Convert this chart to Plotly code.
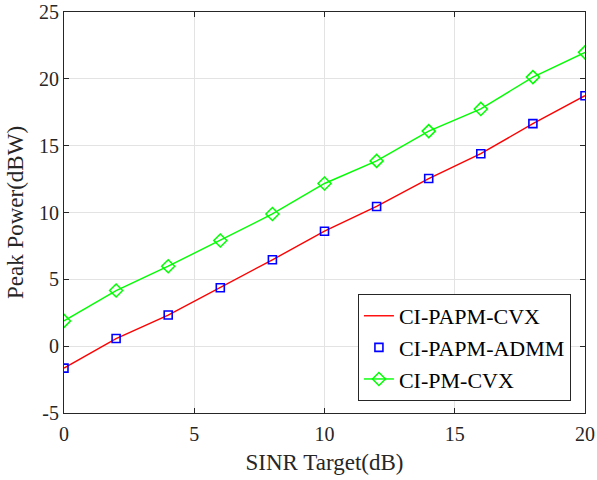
import plotly.graph_objects as go

# SINR target (dB)
sinr_db = [0, 2, 4, 6, 8, 10, 12, 14, 16, 18, 20]

# Peak power (dBW) per scheme
papm_cvx = [-1.64, 0.57, 2.33, 4.37, 6.46, 8.60, 10.45, 12.54, 14.40, 16.65, 18.74]
papm_admm = [-1.64, 0.57, 2.33, 4.37, 6.46, 8.60, 10.45, 12.54, 14.40, 16.65, 18.74]
pm_cvx = [1.89, 4.16, 5.98, 7.91, 9.89, 12.17, 13.86, 16.09, 17.75, 20.13, 21.98]

x_ticks = [0, 5, 10, 15, 20]
y_ticks = [-5, 0, 5, 10, 15, 20, 25]

FONT = "Liberation Serif, Times New Roman, serif"
AXIS_COLOR = "#262626"
GRID_COLOR = "#e3e3e3"

fig = go.Figure()
fig.add_trace(go.Scatter(
    x=sinr_db, y=papm_cvx, mode="lines", name="CI-PAPM-CVX",
    line=dict(color="#ff0000", width=1.4),
))
fig.add_trace(go.Scatter(
    x=sinr_db, y=papm_admm, mode="markers", name="CI-PAPM-ADMM",
    marker=dict(symbol="square-open", size=8, color="#0000ff",
                line=dict(width=1.6, color="#0000ff")),
))
fig.add_trace(go.Scatter(
    x=sinr_db, y=pm_cvx, mode="lines+markers", name="CI-PM-CVX",
    line=dict(color="#00ff00", width=1.4),
    marker=dict(symbol="diamond-open", size=10, color="#00ff00",
                line=dict(width=1.5, color="#00ff00")),
))

axis_common = dict(
    showline=True, linecolor=AXIS_COLOR, linewidth=1, mirror="ticks",
    ticks="inside", ticklen=5, tickcolor=AXIS_COLOR, tickwidth=1,
    showgrid=True, gridcolor=GRID_COLOR, gridwidth=1, zeroline=False,
    tickfont=dict(family=FONT, size=20, color=AXIS_COLOR),
    ticklabeloverflow="allow",
)

fig.update_xaxes(
    range=[0, 20], tickvals=x_ticks, ticktext=[str(v) for v in x_ticks],
    ticklabelstandoff=3,
    title=dict(text="SINR Target(dB)", font=dict(family=FONT, size=23, color=AXIS_COLOR), standoff=9),
    **axis_common,
)
fig.update_yaxes(
    range=[-5, 25], tickvals=y_ticks, ticktext=[str(v) for v in y_ticks],
    title=dict(text="Peak Power(dBW)", font=dict(family=FONT, size=23, color=AXIS_COLOR), standoff=8),
    **axis_common,
)

fig.update_layout(
    width=597, height=480,
    margin=dict(l=64, r=12, t=12, b=67, autoexpand=False),
    paper_bgcolor="white", plot_bgcolor="white",
    showlegend=True,
    legend=dict(
        x=0.973, y=0.03, xanchor="right", yanchor="bottom",
        bgcolor="white", bordercolor=AXIS_COLOR, borderwidth=1,
        font=dict(family=FONT, size=22, color="#000000"),
        tracegroupgap=0, itemwidth=30,
    ),
)

fig.write_html("out.html")
